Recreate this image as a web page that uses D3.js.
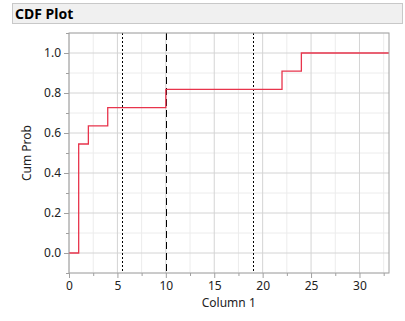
<!DOCTYPE html>
<html>
<head>
<meta charset="utf-8">
<script src="https://cdn.jsdelivr.net/npm/d3@7"></script>
<style>
  body { margin: 0; background: #fff; }
  svg text { font-family: "Noto Sans", "Open Sans", sans-serif; }
</style>
</head>
<body>
<svg width="405" height="321"></svg>
<script>
// Step points of the CDF
const stepX = [0, 1, 2, 4, 10, 22, 24];
const cumProb = [0, 0.545, 0.636, 0.727, 0.818, 0.909, 1.0];
// Reference lines
const dottedLines = [5.5, 19];
const dashedLines = [10];
const xTicks = [0, 5, 10, 15, 20, 25, 30];
const yTicks = [0, 0.2, 0.4, 0.6, 0.8, 1.0];

const svg = d3.select("svg");
const plotL = 69, plotR = 389, plotT = 33, plotB = 273;

const x = d3.scaleLinear().domain([0, 33.05]).range([plotL, plotR]);
const y = d3.scaleLinear().domain([-0.1, 1.1]).range([plotB, plotT]);

// Title bar
svg.append("rect")
    .attr("x", 12.5).attr("y", 3.5).attr("width", 390).attr("height", 20)
    .attr("fill", "#f0f0f0").attr("stroke", "#c8c8c8");
svg.append("text")
    .attr("x", 15).attr("y", 18.5)
    .attr("font-size", 14).attr("font-weight", "bold")
    .text("CDF Plot");

// Grid
const minorX = d3.range(0, 33, 2.5).filter(v => v % 5 !== 0);
const minorY = d3.range(-0.1, 1.1, 0.2);
const g = svg.append("g");
g.selectAll(".mx").data(minorX).join("line")
    .attr("x1", d => x(d)).attr("x2", d => x(d)).attr("y1", plotT).attr("y2", plotB)
    .attr("stroke", "#ececec");
g.selectAll(".my").data(minorY).join("line")
    .attr("y1", d => y(d)).attr("y2", d => y(d)).attr("x1", plotL).attr("x2", plotR)
    .attr("stroke", "#ececec");
g.selectAll(".gx").data(xTicks).join("line")
    .attr("x1", d => x(d)).attr("x2", d => x(d)).attr("y1", plotT).attr("y2", plotB)
    .attr("stroke", "#d4d4d4");
g.selectAll(".gy").data(yTicks).join("line")
    .attr("y1", d => y(d)).attr("y2", d => y(d)).attr("x1", plotL).attr("x2", plotR)
    .attr("stroke", "#d4d4d4");

// Reference lines
svg.selectAll(".dot").data(dottedLines).join("line")
    .attr("x1", d => Math.round(x(d)) + 0.5).attr("x2", d => Math.round(x(d)) + 0.5)
    .attr("y1", plotT).attr("y2", plotB)
    .attr("stroke", "#000").attr("stroke-dasharray", "2,2");
svg.selectAll(".dash").data(dashedLines).join("line")
    .attr("x1", d => Math.round(x(d)) + 0.5).attr("x2", d => Math.round(x(d)) + 0.5)
    .attr("y1", plotT).attr("y2", plotB)
    .attr("stroke", "#000").attr("stroke-dasharray", "7,4");

// CDF step line
const pts = stepX.map((v, i) => [v, cumProb[i]]);
pts.push([33.05, 1.0]);
svg.append("path")
    .datum(pts)
    .attr("fill", "none")
    .attr("stroke", "#e8344c")
    .attr("stroke-width", 1.3)
    .attr("d", d3.line().x(d => x(d[0])).y(d => y(d[1])).curve(d3.curveStepAfter));

// Frame
svg.append("rect")
    .attr("x", plotL).attr("y", plotT).attr("width", plotR - plotL).attr("height", plotB - plotT)
    .attr("fill", "none").attr("stroke", "#a0a0a0");

// Axes
svg.append("g").attr("transform", `translate(0,${plotB})`)
    .call(d3.axisBottom(x).tickValues(xTicks).tickSize(5).tickPadding(3).tickFormat(d3.format("d")));
svg.append("g").attr("transform", `translate(0,${plotB})`)
    .call(d3.axisBottom(x).tickValues(minorX).tickSize(3).tickFormat(""));
svg.append("g").attr("transform", `translate(${plotL},0)`)
    .call(d3.axisLeft(y).tickValues(yTicks).tickSize(5).tickPadding(3).tickFormat(d3.format(".1f")));
svg.append("g").attr("transform", `translate(${plotL},0)`)
    .call(d3.axisLeft(y).tickValues(minorY).tickSize(3).tickFormat(""));
svg.selectAll(".domain").remove();
svg.selectAll(".tick line").attr("stroke", "#a0a0a0");
svg.selectAll(".tick text").attr("font-size", 12).attr("fill", "#222")
    .attr("font-family", "\"Noto Sans\", sans-serif");

// Axis labels
svg.append("text")
    .attr("x", x(16.5)).attr("y", 307)
    .attr("text-anchor", "middle").attr("font-size", 12).attr("fill", "#222")
    .text("Column 1");
svg.append("text")
    .attr("transform", `translate(31,${y(0.5)}) rotate(-90)`)
    .attr("text-anchor", "middle").attr("font-size", 12).attr("fill", "#222")
    .text("Cum Prob");
</script>
</body>
</html>
